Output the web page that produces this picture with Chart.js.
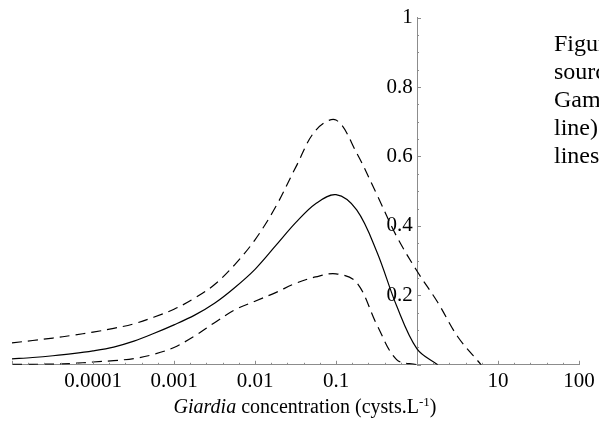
<!DOCTYPE html>
<html>
<head>
<meta charset="utf-8">
<script src="https://cdn.jsdelivr.net/npm/chart.js@4"></script>
<style>
  html, body { margin: 0; padding: 0; background: #fff; overflow: hidden; }
  #wrap { position: relative; width: 599px; height: 434px; overflow: hidden; }
  #xTitle {
    position: absolute; left: 0; width: 610px; top: 394px; text-align: center;
    font-family: "Liberation Serif", serif; font-size: 20px; color: #000;
  }
  #xTitle sup { font-size: 13px; vertical-align: 7px; }
  #caption {
    position: absolute; left: 554px; top: 29px; white-space: nowrap;
    font-family: "Liberation Serif", serif; font-size: 24px; line-height: 28px; color: #000;
  }
</style>
</head>
<body>
<div id="wrap">
  <canvas id="chart" width="599" height="434"></canvas>
  <div id="xTitle"><i>Giardia</i> concentration (cysts.L<sup>-1</sup>)</div>
  <div id="caption">Figure<br>source<br>Gamma<br>line)<br>lines</div>
</div>
<script>
// concentration (cysts/L) and probability curves
const conc  = [0.00001, 0.000018, 0.000032, 0.000056, 0.0001, 0.00018, 0.00032, 0.00056, 0.001, 0.0018, 0.0032, 0.0056,
               0.01, 0.018, 0.032, 0.056, 0.1, 0.18, 0.32, 0.56, 1, 1.8, 3.2, 6.2, 10];
const mean  = [0.017, 0.021, 0.026, 0.032, 0.04, 0.051, 0.068, 0.09, 0.115, 0.143, 0.178, 0.222,
               0.275, 0.343, 0.41, 0.464, 0.49, 0.446, 0.325, 0.17, 0.046, 0, null, null, null];
const upper = [0.063, 0.07, 0.077, 0.085, 0.094, 0.105, 0.118, 0.137, 0.16, 0.192, 0.232, 0.288,
               0.36, 0.455, 0.57, 0.675, 0.705, 0.61, 0.49, 0.37, 0.27, 0.18, 0.08, 0, null];
const lower = [0.001, 0.0015, 0.002, 0.004, 0.008, 0.012, 0.018, 0.03, 0.05, 0.083, 0.122, 0.158,
               0.183, 0.208, 0.235, 0.253, 0.262, 0.237, 0.115, 0.015, 0, null, null, null, null];

const xTickValues = [0.0001, 0.001, 0.01, 0.1, 10, 100];
const xTickLabels = ['0.0001', '0.001', '0.01', '0.1', '10', '100'];
const yTickValues = [0.2, 0.4, 0.6, 0.8, 1];
const yTickLabels = ['0.2', '0.4', '0.6', '0.8', '1'];

const pts = arr => conc.map((c, i) => ({ x: c, y: arr[i] }));
const axisGrey = '#8c8c8c';
const serif = { family: '"Liberation Serif", serif', size: 21 };

// inward tick marks like the original plot
const innerTicks = {
  id: 'innerTicks',
  afterDraw(chart) {
    const { ctx, scales: { x, y } } = chart;
    ctx.save();
    ctx.strokeStyle = axisGrey;
    ctx.lineWidth = 1;
    const y0 = y.getPixelForValue(0);
    x.ticks.forEach(t => {
      const px = Math.round(x.getPixelForValue(t.value)) + 0.5;
      const major = Math.abs(Math.log10(t.value) - Math.round(Math.log10(t.value))) < 1e-6;
      ctx.beginPath();
      ctx.moveTo(px, y0);
      ctx.lineTo(px, y0 - (major ? 4 : 2));
      ctx.stroke();
    });
    const x1 = x.getPixelForValue(1);
    y.ticks.forEach(t => {
      const py = Math.round(y.getPixelForValue(t.value)) + 0.5;
      const major = Math.abs(t.value * 5 - Math.round(t.value * 5)) < 1e-6;
      ctx.beginPath();
      ctx.moveTo(x1, py);
      ctx.lineTo(x1 + (major ? 4 : 2), py);
      ctx.stroke();
    });
    ctx.restore();
  }
};

const line = (data, dashed) => ({
  data: pts(data),
  borderColor: '#000',
  borderWidth: 1.2,
  borderDash: dashed ? [10, 6] : [],
  pointRadius: 0,
  fill: false,
  tension: 0.35,
  spanGaps: false
});

new Chart(document.getElementById('chart'), {
  type: 'line',
  data: {
    datasets: [line(upper, true), line(mean, false), line(lower, true)]
  },
  options: {
    responsive: false,
    animation: false,
    layout: { padding: { left: 12, right: 20, top: 13, bottom: 36 } },
    plugins: { legend: { display: false }, tooltip: { enabled: false } },
    scales: {
      x: {
        type: 'logarithmic',
        min: 0.00001,
        max: 100,
        afterBuildTicks(scale) {
          const t = [];
          for (let i = 0; i <= 35; i++) t.push({ value: Math.pow(10, -5 + i / 5) });
          scale.ticks = t;
        },
        ticks: {
          autoSkip: false,
          maxRotation: 0,
          padding: 4,
          color: '#000',
          font: serif,
          callback(value) {
            const k = xTickValues.findIndex(v => Math.abs(Math.log10(v) - Math.log10(value)) < 1e-6);
            return k >= 0 ? xTickLabels[k] : '';
          }
        },
        grid: { display: true, drawOnChartArea: false, drawTicks: false, color: axisGrey },
        border: { display: true, color: axisGrey, width: 1 }
      },
      y: {
        type: 'linear',
        position: { x: 1 },
        min: 0,
        max: 1,
        ticks: {
          stepSize: 0.05,
          autoSkip: false,
          padding: 5,
          color: '#000',
          font: serif,
          callback(value) {
            const k = yTickValues.findIndex(v => Math.abs(v - value) < 1e-6);
            // thin space keeps the label clear of the axis line
            return k >= 0 ? yTickLabels[k] + '\u2009' : '';
          }
        },
        grid: {
          display: true, drawOnChartArea: false, drawTicks: true,
          tickLength: 4, tickColor: 'rgba(0,0,0,0)', color: axisGrey
        },
        border: { display: true, color: axisGrey, width: 1 }
      }
    }
  },
  plugins: [innerTicks]
});
</script>
</body>
</html>
